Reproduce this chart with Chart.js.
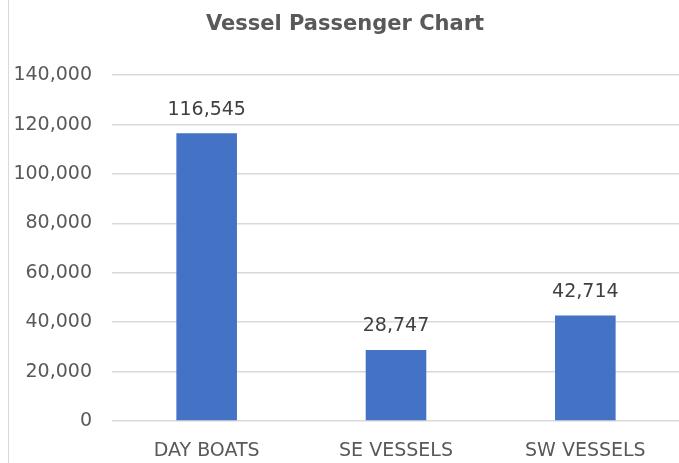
<!DOCTYPE html>
<html>
<head>
<meta charset="utf-8">
<script src="https://cdn.jsdelivr.net/npm/chart.js@4/dist/chart.umd.min.js"></script>
<style>
  html, body { margin: 0; padding: 0; background: #fff; }
  #frame {
    position: absolute; left: 8px; top: 0;
    width: 671px; height: 463px;
    border-left: 1px solid #d9d9d9;
  }
  #box { position: absolute; left: 1px; top: 0; width: 670px; height: 463px; }
</style>
</head>
<body>
<div id="frame"><div id="box"><canvas id="grafico"></canvas></div></div>
<script>
const categorias = ["DAY BOATS", "SE VESSELS", "SW VESSELS"];
const passageiros = [116545, 28747, 42714];
const ticksY = [0, 20000, 40000, 60000, 80000, 100000, 120000, 140000];

const corTexto = "#595959";
const fonte = "'DejaVu Sans', Verdana, sans-serif";

// rotulos de valor acima das barras
const rotulos = {
  id: "rotulos",
  afterDatasetsDraw(chart) {
    const ctx = chart.ctx;
    const meta = chart.getDatasetMeta(0);
    ctx.save();
    ctx.font = "19px " + fonte;
    ctx.fillStyle = "#404040";
    ctx.textAlign = "center";
    ctx.textBaseline = "bottom";
    meta.data.forEach((bar, i) => {
      ctx.fillText(passageiros[i].toLocaleString("en-US"), bar.x, bar.y - 14);
    });
    ctx.restore();
  },
};

new Chart(document.getElementById("grafico"), {
  type: "bar",
  data: {
    labels: categorias,
    datasets: [
      {
        label: "Passageiros",
        data: passageiros,
        backgroundColor: "#4472C4",
        borderWidth: 0,
        categoryPercentage: 1,
        barPercentage: 0.32,
      },
    ],
  },
  options: {
    responsive: true,
    maintainAspectRatio: false,
    animation: false,
    layout: { padding: { left: 0, right: 0, top: 0, bottom: 0 } },
    plugins: {
      legend: { display: false },
      tooltip: { enabled: false },
      title: {
        display: true,
        text: "Vessel Passenger Chart",
        color: corTexto,
        font: { family: fonte, size: 21, weight: "bold" },
        padding: { top: 12, bottom: 38 },
      },
    },
    scales: {
      y: {
        min: 0,
        max: 140000,
        afterFit: (s) => { s.width = 102; },
        afterBuildTicks: (s) => { s.ticks = ticksY.map((v) => ({ value: v })); },
        ticks: {
          color: corTexto,
          font: { family: fonte, size: 19 },
          padding: 20,
          callback: (v) => v.toLocaleString("en-US"),
        },
        grid: { color: "#d9d9d9", lineWidth: 1.5, drawTicks: false },
        border: { display: false },
      },
      x: {
        afterFit: (s) => { s.height = 42; },
        ticks: {
          color: corTexto,
          font: { family: fonte, size: 19 },
          padding: 11,
        },
        grid: { display: false },
        border: { display: false },
      },
    },
  },
  plugins: [rotulos],
});
</script>
</body>
</html>
